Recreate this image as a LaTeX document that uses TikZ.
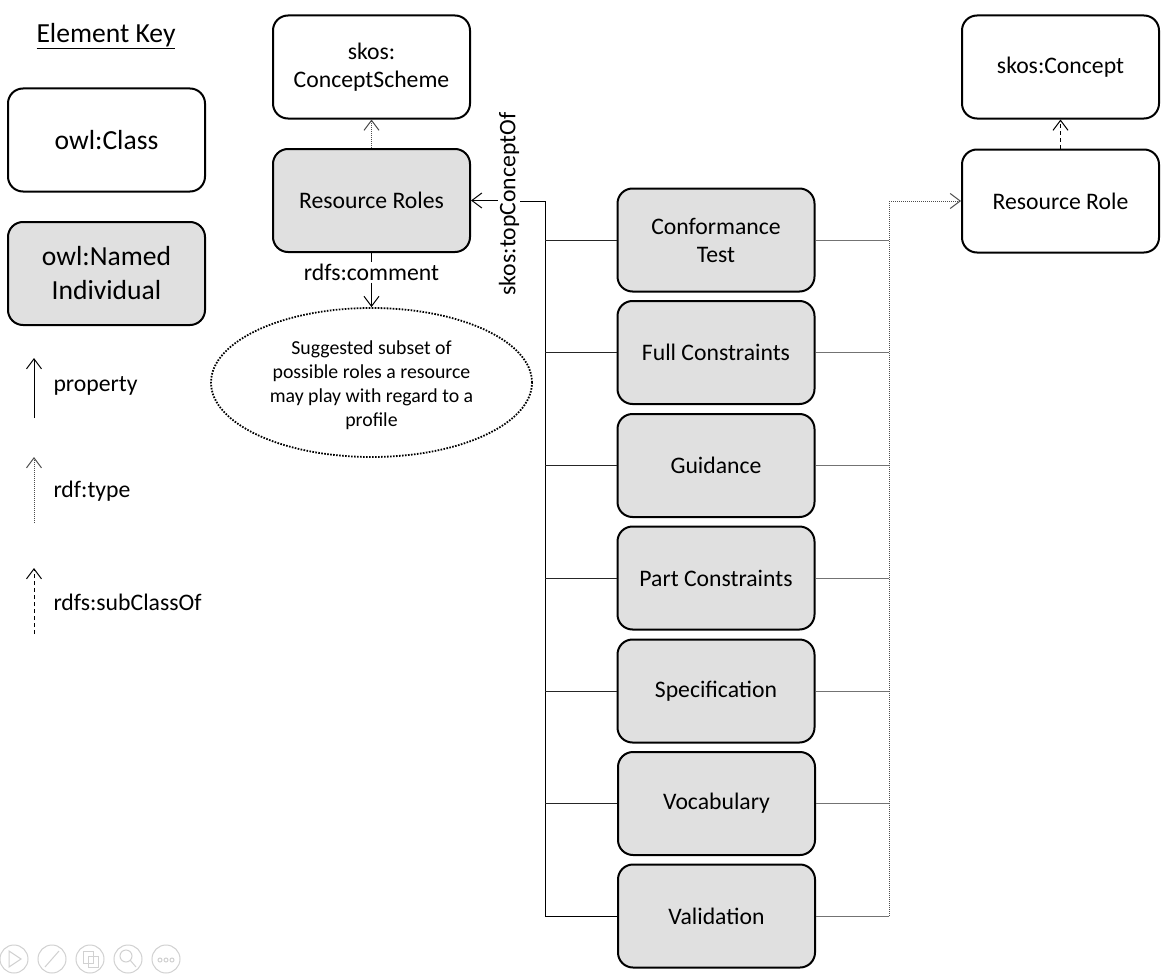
\documentclass[tikz,border=0pt]{standalone}
\usepackage{fontspec}
\setmainfont{Carlito}
\usetikzlibrary{arrows.meta,shapes.geometric}
\begin{document}
\begin{tikzpicture}[x=1pt,y=-1pt,
  every node/.style={font=\fontsize{23.7}{28}\selectfont},
  bigfont/.style={font=\fontsize{27.6}{34}\selectfont},
  box/.style={draw, rounded corners=15pt, line width=2pt, minimum width=197pt, minimum height=103pt, align=center, inner sep=0pt},
  indiv/.style={box, fill=black!12},
  prop/.style={line width=1pt, black},
  typeline/.style={line width=1pt, black!70, dash pattern=on 1pt off 1pt},
  subline/.style={line width=1pt, black, dash pattern=on 4pt off 3pt},
  branch/.style={line width=1pt, black!55},
  tipo/.style={-{Straight Barb[length=10pt,width=15pt,line width=1pt]}},
  icon/.style={draw=black!18, line width=1pt}
]
\useasboundingbox (0,0) rectangle (1168,974);
\fill[white] (0,0) rectangle (1168,974);

% ---- Element key ----
\node[bigfont] (keytitle) at (106,36) {\underline{Element Key}};
\node[box, bigfont] (kclass) at (106.5,140) {owl:Class};
\node[indiv, bigfont] (kindiv) at (106.5,273.5) {owl:Named\\Individual};

\coordinate (kp1) at (34,418); \coordinate (kp2) at (34,358);
\coordinate (kt1) at (34,523); \coordinate (kt2) at (34,457);
\coordinate (ks1) at (34,634); \coordinate (ks2) at (34,568);
\draw[prop, tipo] (kp1) -- (kp2);
\draw[typeline, tipo] (kt1) -- (kt2);
\draw[subline, tipo] (ks1) -- (ks2);
\node[anchor=west] (lp) at (50,386) {property};
\node[anchor=west] (lt) at (50,491) {rdf:type};
\node[anchor=west] (ls) at (50,602) {rdfs:subClassOf};

% ---- Left part ----
\node[box] (cs) at (371.5,67) {skos:\\ConceptScheme};
\node[indiv] (rr) at (371.5,200.5) {Resource Roles};
\draw[typeline, tipo] (rr.north) -- (cs.south);

\node[inner xsep=0pt, inner ysep=1.5pt] (cmt) at (371.5,272.5) {rdfs:comment};
\node[draw, ellipse, line width=1.8pt, dash pattern=on 1.6pt off 1.4pt, minimum width=321pt, minimum height=149pt, inner sep=0pt] (ell) at (371.5,382.5) {};
\node[align=center, inner sep=0pt, font=\fontsize{19.8}{24}\selectfont] (elltext) at (371.5,385.5)
  {Suggested subset of\\possible roles a resource\\may play with regard to a\\profile};
\draw[prop] (rr.south) -- (cmt.north);
\draw[prop, tipo] (cmt.south) -- (ell.north);

% ---- individuals ----
\node[indiv] (ct) at (716,240) {Conformance\\Test};
\node[indiv] (fc) at (716,352.5) {Full Constraints};
\node[indiv] (gu) at (716,465.5) {Guidance};
\node[indiv] (pc) at (716,578) {Part Constraints};
\node[indiv] (sp) at (716,691) {Specification};
\node[indiv] (vo) at (716.5,803.5) {Vocabulary};
\node[indiv] (va) at (716.5,916) {Validation};

% topConceptOf
\coordinate (ttop) at (545,201);
\node[rotate=90, inner xsep=0pt, inner ysep=1pt] (tco) at (509,204) {skos:topConceptOf};
\draw[prop] (tco.south |- ttop) -- (ttop) |- (va.west);
\draw[prop, tipo] (tco.north |- rr.east) -- (rr.east);
\foreach \n in {ct,fc,gu,pc,sp,vo}{
  \draw[line width=1pt, black!85] (\n.west -| ttop) -- (\n.west);
}

% ---- right part ----
\node[box] (concept) at (1060.5,67) {skos:Concept};
\node[box] (role) at (1060.5,201) {Resource Role};
\draw[subline, tipo] (role.north) -- (concept.south);

\coordinate (rtop) at (889,201);
\coordinate (rbot) at (889,916);
\foreach \n in {ct,fc,gu,pc,sp,vo,va}{
  \draw[branch] (\n.east) -- (\n.east -| rtop);
}
\draw[typeline] (rbot) -- (rtop);
\draw[typeline, tipo] (rtop) -- (role.west |- rtop);

% ---- faint presentation controls ----
\draw[icon] (14,959) circle (14);
\draw[icon] (9,951) -- (9,967) -- (21,959) -- cycle;
\draw[icon] (52,959) circle (14);
\draw[icon] (45,967) -- (59,951);
\draw[icon] (90,959) circle (14);
\draw[icon] (83,951) rectangle (93,963);
\draw[icon] (88,956) rectangle (98,967);
\draw[icon] (128,959) circle (14);
\draw[icon] (126,956) circle (6);
\draw[icon] (130,960) -- (136,967);
\draw[icon] (166,959) circle (14);
\draw[icon] (160,960) circle (2);
\draw[icon] (166,960) circle (2);
\draw[icon] (172,960) circle (2);
\end{tikzpicture}
\end{document}
